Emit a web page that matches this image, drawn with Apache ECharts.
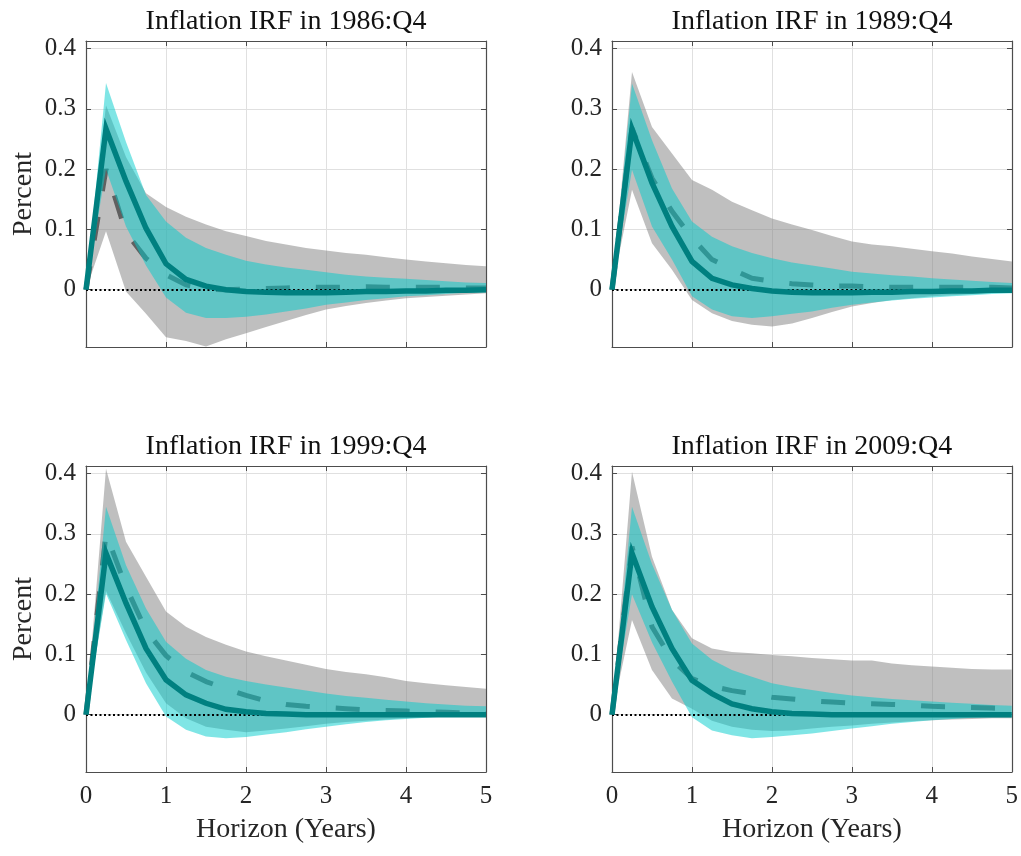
<!DOCTYPE html>
<html>
<head>
<meta charset="utf-8">
<script src="https://cdn.jsdelivr.net/npm/echarts@6/dist/echarts.min.js"></script>
<style>
  html, body { margin: 0; padding: 0; background: #ffffff; }
  #chart { width: 1021px; height: 856px; }
</style>
</head>
<body>
<div id="chart"></div>
<script>
// Horizon in years (quarterly steps)
const horizon = [0, 0.25, 0.5, 0.75, 1, 1.25, 1.5, 1.75, 2, 2.25, 2.5, 2.75, 3, 3.25, 3.5, 3.75, 4, 4.25, 4.5, 4.75, 5];

const panelTitles = ['Inflation IRF in 1986:Q4', 'Inflation IRF in 1989:Q4', 'Inflation IRF in 1999:Q4', 'Inflation IRF in 2009:Q4'];
const yTickValues = [0, 0.1, 0.2, 0.3, 0.4];
const xTickValues = [0, 1, 2, 3, 4, 5];

// 1986:Q4
const q1986_median = [0, 0.267, 0.180, 0.102, 0.043, 0.017, 0.006, 0.000, -0.003, -0.004, -0.005, -0.005, -0.005, -0.004, -0.003, -0.003, -0.002, -0.002, -0.001, -0.001, 0.000];
const q1986_innerHi = [0, 0.343, 0.245, 0.157, 0.113, 0.086, 0.069, 0.058, 0.048, 0.042, 0.037, 0.033, 0.029, 0.025, 0.022, 0.020, 0.018, 0.016, 0.014, 0.012, 0.011];
const q1986_innerLo = [0, 0.200, 0.105, 0.040, -0.013, -0.038, -0.047, -0.047, -0.045, -0.041, -0.036, -0.031, -0.025, -0.021, -0.017, -0.014, -0.011, -0.009, -0.007, -0.005, -0.004];
const q1986_benchmark = [0, 0.200, 0.095, 0.052, 0.025, 0.008, 0.001, 0.000, 0.001, 0.002, 0.003, 0.004, 0.004, 0.004, 0.005, 0.004, 0.004, 0.004, 0.004, 0.003, 0.003];
const q1986_outerHi = [0, 0.306, 0.220, 0.160, 0.137, 0.121, 0.108, 0.097, 0.089, 0.081, 0.075, 0.069, 0.065, 0.061, 0.058, 0.054, 0.050, 0.047, 0.044, 0.041, 0.039];
const q1986_outerLo = [0, 0.097, -0.003, -0.040, -0.079, -0.085, -0.094, -0.082, -0.072, -0.062, -0.052, -0.042, -0.033, -0.027, -0.022, -0.018, -0.014, -0.012, -0.010, -0.008, -0.006];

// 1989:Q4
const q1989_median = [0, 0.266, 0.177, 0.105, 0.047, 0.019, 0.008, 0.002, -0.002, -0.004, -0.005, -0.005, -0.005, -0.004, -0.004, -0.003, -0.003, -0.002, -0.002, -0.001, -0.001];
const q1989_innerHi = [0, 0.342, 0.248, 0.168, 0.113, 0.088, 0.072, 0.061, 0.052, 0.045, 0.040, 0.035, 0.030, 0.027, 0.024, 0.022, 0.019, 0.017, 0.015, 0.013, 0.011];
const q1989_innerLo = [0, 0.199, 0.105, 0.050, -0.011, -0.033, -0.044, -0.047, -0.044, -0.040, -0.036, -0.030, -0.025, -0.021, -0.018, -0.015, -0.013, -0.011, -0.009, -0.007, -0.006];
const q1989_benchmark = [0, 0.268, 0.185, 0.130, 0.086, 0.050, 0.034, 0.019, 0.014, 0.010, 0.008, 0.006, 0.006, 0.005, 0.004, 0.004, 0.004, 0.004, 0.004, 0.004, 0.003];
const q1989_outerHi = [0, 0.361, 0.270, 0.226, 0.182, 0.166, 0.146, 0.132, 0.118, 0.108, 0.099, 0.089, 0.080, 0.075, 0.072, 0.068, 0.064, 0.060, 0.055, 0.051, 0.047];
const q1989_outerLo = [0, 0.166, 0.077, 0.033, -0.017, -0.039, -0.052, -0.058, -0.061, -0.056, -0.047, -0.037, -0.028, -0.022, -0.017, -0.014, -0.011, -0.009, -0.007, -0.005, -0.004];

// 1999:Q4
const q1999_median = [0, 0.268, 0.185, 0.110, 0.058, 0.033, 0.019, 0.009, 0.005, 0.002, 0.001, 0.000, 0.000, 0.000, 0.000, 0.000, 0.000, 0.000, 0.000, 0.000, 0.000];
const q1999_innerHi = [0, 0.345, 0.248, 0.176, 0.121, 0.093, 0.074, 0.063, 0.056, 0.050, 0.045, 0.040, 0.035, 0.031, 0.028, 0.025, 0.022, 0.019, 0.017, 0.015, 0.014];
const q1999_innerLo = [0, 0.201, 0.124, 0.052, -0.003, -0.025, -0.036, -0.039, -0.037, -0.033, -0.029, -0.024, -0.020, -0.016, -0.012, -0.009, -0.007, -0.005, -0.003, -0.002, -0.001];
const q1999_benchmark = [0, 0.300, 0.212, 0.140, 0.098, 0.071, 0.055, 0.043, 0.032, 0.023, 0.017, 0.014, 0.012, 0.010, 0.008, 0.007, 0.006, 0.005, 0.004, 0.003, 0.002];
const q1999_outerHi = [0, 0.408, 0.287, 0.229, 0.171, 0.146, 0.129, 0.116, 0.105, 0.097, 0.090, 0.083, 0.076, 0.071, 0.067, 0.062, 0.056, 0.052, 0.049, 0.046, 0.043];
const q1999_outerLo = [0, 0.205, 0.135, 0.070, 0.019, -0.006, -0.020, -0.025, -0.029, -0.026, -0.023, -0.019, -0.015, -0.012, -0.010, -0.008, -0.006, -0.004, -0.003, -0.002, -0.001];

// 2009:Q4
const q2009_median = [0, 0.268, 0.179, 0.110, 0.057, 0.035, 0.018, 0.010, 0.005, 0.002, 0.001, 0.000, 0.000, 0.000, 0.000, 0.000, 0.000, 0.000, 0.000, 0.000, 0.000];
const q2009_innerHi = [0, 0.345, 0.250, 0.174, 0.118, 0.091, 0.074, 0.063, 0.052, 0.046, 0.041, 0.036, 0.032, 0.029, 0.026, 0.024, 0.022, 0.020, 0.018, 0.016, 0.015];
const q2009_innerLo = [0, 0.200, 0.120, 0.055, -0.004, -0.026, -0.034, -0.039, -0.037, -0.034, -0.031, -0.027, -0.023, -0.019, -0.015, -0.012, -0.009, -0.007, -0.005, -0.004, -0.004];
const q2009_benchmark = [0, 0.279, 0.146, 0.091, 0.060, 0.047, 0.040, 0.035, 0.029, 0.026, 0.023, 0.021, 0.019, 0.018, 0.017, 0.016, 0.014, 0.013, 0.012, 0.011, 0.010];
const q2009_outerHi = [0, 0.403, 0.262, 0.174, 0.127, 0.110, 0.104, 0.102, 0.099, 0.097, 0.094, 0.092, 0.090, 0.090, 0.085, 0.082, 0.080, 0.078, 0.076, 0.075, 0.075];
const q2009_outerLo = [0, 0.157, 0.074, 0.027, 0.010, -0.010, -0.020, -0.025, -0.027, -0.026, -0.023, -0.020, -0.018, -0.015, -0.013, -0.011, -0.009, -0.008, -0.007, -0.006, -0.006];

const panels = [
  { median: q1986_median, innerHi: q1986_innerHi, innerLo: q1986_innerLo, bench: q1986_benchmark, outerHi: q1986_outerHi, outerLo: q1986_outerLo },
  { median: q1989_median, innerHi: q1989_innerHi, innerLo: q1989_innerLo, bench: q1989_benchmark, outerHi: q1989_outerHi, outerLo: q1989_outerLo },
  { median: q1999_median, innerHi: q1999_innerHi, innerLo: q1999_innerLo, bench: q1999_benchmark, outerHi: q1999_outerHi, outerLo: q1999_outerLo },
  { median: q2009_median, innerHi: q2009_innerHi, innerLo: q2009_innerLo, bench: q2009_benchmark, outerHi: q2009_outerHi, outerLo: q2009_outerLo }
];

const FONT = "'Liberation Serif', 'Times New Roman', serif";
const TEXT = '#262626';
const AXIS = '#4d4d4d';
const Y_MIN = -0.095, Y_MAX = 0.4125;

const gridBoxes = [
  { left: 86, top: 41, width: 400, height: 306 },
  { left: 612, top: 41, width: 400, height: 306 },
  { left: 86, top: 466, width: 400, height: 306 },
  { left: 612, top: 466, width: 400, height: 306 }
];

const pairs = (ys) => horizon.map((x, i) => [x, ys[i]]);

const yLabelFmt = (v) => {
  const hit = yTickValues.find(t => Math.abs(t - v) < 1e-9);
  return hit === undefined ? '' : String(hit);
};
const xLabelFmt = (v) => {
  const hit = xTickValues.find(t => Math.abs(t - v) < 1e-9);
  return hit === undefined ? '' : String(hit);
};

// Shaded credible band: one polygon running along the upper bound and back along the lower bound
function bandSeries(xi, yi, lo, hi, fill, z) {
  return {
    type: 'custom', xAxisIndex: xi, yAxisIndex: yi, z, silent: true, clip: true, animation: false,
    data: horizon.map((x, k) => [x, lo[k], hi[k]]),
    encode: { x: 0, y: [1, 2] },
    renderItem: (params, api) => {
      if (params.dataIndex !== 0) return null;
      const upper = horizon.map((x, k) => api.coord([x, hi[k]]));
      const lower = horizon.map((x, k) => api.coord([x, lo[k]])).reverse();
      return { type: 'polygon', silent: true, shape: { points: upper.concat(lower) }, style: { fill } };
    }
  };
}

const grid = [], xAxis = [], yAxis = [], series = [];

const edgeAxis = { onZero: false };

panels.forEach((p, i) => {
  grid.push(Object.assign({ containLabel: false }, gridBoxes[i]));
  const isBottom = i >= 2, isLeft = i % 2 === 0;

  // main bottom x axis
  xAxis.push({
    type: 'value', gridIndex: i, min: 0, max: 5, interval: 1, position: 'bottom',
    axisLine: Object.assign({ show: true, lineStyle: { color: AXIS, width: 1.2 } }, edgeAxis),
    axisTick: { show: true, inside: true, length: 5, lineStyle: { color: AXIS, width: 1 } },
    axisLabel: { show: isBottom, formatter: xLabelFmt, fontFamily: FONT, fontSize: 25, color: TEXT, margin: 12 },
    splitLine: { show: true, lineStyle: { color: '#e0e0e0', width: 1 } },
    name: isBottom ? 'Horizon (Years)' : '',
    nameLocation: 'middle', nameGap: 44,
    nameTextStyle: { fontFamily: FONT, fontSize: 28, color: TEXT }
  });
  // top x axis: box edge, ticks and panel title
  xAxis.push({
    type: 'value', gridIndex: i, min: 0, max: 5, interval: 1, position: 'top',
    axisLine: Object.assign({ show: true, lineStyle: { color: AXIS, width: 1.2 } }, edgeAxis),
    axisTick: { show: true, inside: true, length: 5, lineStyle: { color: AXIS, width: 1 } },
    axisLabel: { show: false }, splitLine: { show: false },
    name: panelTitles[i], nameLocation: 'middle', nameGap: 5,
    nameTextStyle: { fontFamily: FONT, fontSize: 28, color: '#111111' }
  });
  // main left y axis
  yAxis.push({
    type: 'value', gridIndex: i, min: Y_MIN, max: Y_MAX, position: 'left',
    axisLine: Object.assign({ show: true, lineStyle: { color: AXIS, width: 1.2 } }, edgeAxis),
    axisTick: { show: true, inside: true, length: 5, lineStyle: { color: AXIS, width: 1 } },
    axisLabel: { show: true, formatter: yLabelFmt, fontFamily: FONT, fontSize: 25, color: TEXT, margin: 10, showMinLabel: false, showMaxLabel: false },
    splitLine: { show: true, lineStyle: { color: '#e0e0e0', width: 1 } },
    name: isLeft ? 'Percent' : '',
    nameLocation: 'middle', nameGap: 48,
    nameTextStyle: { fontFamily: FONT, fontSize: 28, color: TEXT }
  });
  // right y axis: box edge and ticks
  yAxis.push({
    type: 'value', gridIndex: i, min: Y_MIN, max: Y_MAX, position: 'right',
    axisLine: Object.assign({ show: true, lineStyle: { color: AXIS, width: 1.2 } }, edgeAxis),
    axisTick: { show: true, inside: true, length: 5, lineStyle: { color: AXIS, width: 1 } },
    axisLabel: { show: false }, splitLine: { show: false }
  });

  const xi = i * 2, yi = i * 2;
  const lineCommon = { type: 'line', xAxisIndex: xi, yAxisIndex: yi, symbol: 'none', showSymbol: false, silent: true, animation: false };

  // outer (grey) band
  series.push(bandSeries(xi, yi, p.outerLo, p.outerHi, 'rgba(128,128,128,0.5)', 2));
  // benchmark response (dashed) with the zero reference line
  series.push(Object.assign({}, lineCommon, {
    name: 'benchmark' + i, z: 3,
    data: pairs(p.bench),
    lineStyle: { color: 'rgba(64,64,64,0.75)', width: 5, type: [24, 26], cap: 'butt' },
    markLine: {
      silent: true, symbol: ['none', 'none'], label: { show: false },
      lineStyle: { color: '#000000', type: [2, 2.5], width: 2 },
      data: [{ yAxis: 0 }]
    }
  }));
  // inner (cyan) band
  series.push(bandSeries(xi, yi, p.innerLo, p.innerHi, 'rgba(0,204,204,0.5)', 4));
  // median response (solid teal)
  series.push(Object.assign({}, lineCommon, {
    name: 'median' + i, z: 5,
    data: pairs(p.median),
    lineStyle: { color: '#008080', width: 5.5, join: 'miter' }
  }));
});

const chart = echarts.init(document.getElementById('chart'), null, { renderer: 'canvas' });
chart.setOption({
  backgroundColor: '#ffffff',
  animation: false,
  grid, xAxis, yAxis, series
});
</script>
</body>
</html>
